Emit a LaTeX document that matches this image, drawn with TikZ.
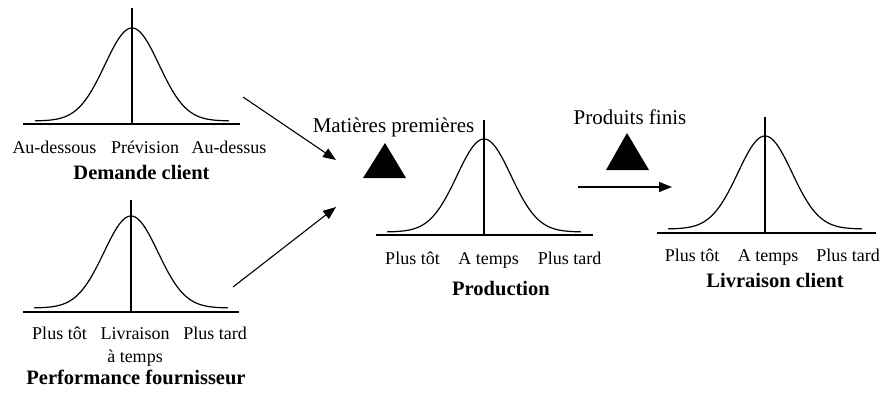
\documentclass[tikz,border=0pt]{standalone}
\usepackage{fontspec}
\setmainfont{Liberation Serif}
\usetikzlibrary{arrows.meta}
\begin{document}
\begin{tikzpicture}[x=1pt,y=-1pt,
  lbl/.style={inner sep=0pt, anchor=base, font=\fontsize{18}{20}\selectfont},
  ttl/.style={inner sep=0pt, anchor=base, font=\fontsize{20.5}{22}\selectfont\bfseries},
  toplbl/.style={inner sep=0pt, anchor=base, font=\fontsize{21}{23}\selectfont},
  flow/.style={-{Triangle[length=13pt,width=10pt]}, line width=1.1pt},
  axisline/.style={line width=1.1pt},
  bell/.style={line width=1.2pt, smooth},
  stock/.style={fill=black}]
\useasboundingbox (0,0) rectangle (885,392);

% ---- Curve 1: Demande client
\draw[axisline] (23,124) -- (240,124);
\draw[axisline] (132,8) -- (132,124);
\draw[bell] plot[domain=-97:97,samples=120] ({132+\x},{121-93*exp(-0.5*(\x/27)*(\x/27))});
\node[lbl] (d1) at (54.5,153) {Au-dessous};
\node[lbl] (d2) at (145,153) {Prévision};
\node[lbl] (d3) at (229,153) {Au-dessus};
\node[ttl] (dt) at (141.5,179) {Demande client};

% ---- Curve 2: Performance fournisseur
\draw[axisline] (23,312) -- (239,312);
\draw[axisline] (131,200) -- (131,312);
\draw[bell] plot[domain=-97:97,samples=120] ({131+\x},{308-92*exp(-0.5*(\x/27)*(\x/27))});
\node[lbl] (p1) at (59.5,339) {Plus tôt};
\node[lbl] (p2) at (135,339) {Livraison};
\node[lbl] (p3) at (215,339) {Plus tard};
\node[lbl] (p4) at (135,362) {à temps};
\node[ttl] (pt) at (136,384) {Performance fournisseur};

% ---- Curve 3: Production
\draw[axisline] (376,235) -- (593,235);
\draw[axisline] (484,120) -- (484,235);
\draw[bell] plot[domain=-97:97,samples=120] ({484+\x},{232-93*exp(-0.5*(\x/27)*(\x/27))});
\node[lbl] (r1) at (412.5,264) {Plus tôt};
\node[lbl] (r2) at (488.5,264) {A temps};
\node[lbl] (r3) at (569.5,264) {Plus tard};
\node[ttl] (rt) at (501,295) {Production};

% ---- Curve 4: Livraison client
\draw[axisline] (657,233) -- (876,233);
\draw[axisline] (765,117) -- (765,233);
\draw[bell] plot[domain=-97:97,samples=120] ({765+\x},{229-93*exp(-0.5*(\x/27)*(\x/27))});
\node[lbl] (l1) at (692,261) {Plus tôt};
\node[lbl] (l2) at (768,261) {A temps};
\node[lbl] (l3) at (848,261) {Plus tard};
\node[ttl] (lt) at (775,287) {Livraison client};

% ---- Stocks
\node[toplbl] (mp) at (393.5,132) {Matières premières};
\fill[stock] (385,143) -- (406,178) -- (363,178) -- cycle;
\node[toplbl] (pf) at (630,124) {Produits finis};
\fill[stock] (627,133) -- (649,170) -- (606,170) -- cycle;

% ---- Flows
\coordinate (a1s) at (243,97);
\coordinate (a1e) at (336,160);
\coordinate (a2s) at (233,287);
\coordinate (a2e) at (336,207);
\coordinate (a3s) at (578,187);
\coordinate (a3e) at (672,187);
\draw[flow] (a1s) -- (a1e);
\draw[flow] (a2s) -- (a2e);
\draw[flow] (a3s) -- (a3e);
\end{tikzpicture}
\end{document}
